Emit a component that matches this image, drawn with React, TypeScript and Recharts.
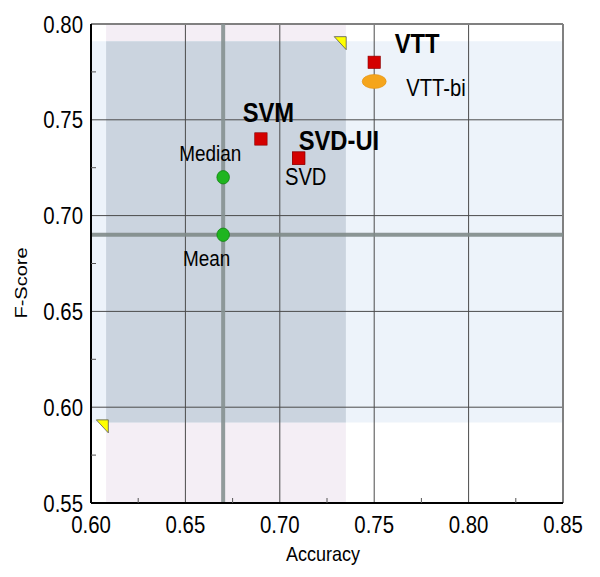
import React from 'react';
import { ScatterChart, Scatter, XAxis, YAxis, ReferenceArea, ReferenceLine } from 'recharts';

const FONT = '"Liberation Sans", Arial, Helvetica, sans-serif';

// Methods drawn as red squares
const methodNames = ['VTT', 'SVM', 'SVD-UI', 'SVD'];
const methodAccuracy = [0.75, 0.69, 0.71, 0.71];
const methodFScore = [0.78, 0.74, 0.73, 0.73];

// Bi-variant (orange ellipse)
const biNames = ['VTT-bi'];
const biAccuracy = [0.75];
const biFScore = [0.77];

// Statistics (green circles)
const statNames = ['Median', 'Mean'];
const statAccuracy = [0.67, 0.67];
const statFScore = [0.72, 0.69];

// Range bounds (yellow triangles)
const boundNames = ['upper', 'lower'];
const boundAccuracy = [0.732, 0.606];
const boundFScore = [0.79, 0.59];

// Shaded ranges
const accuracyBand = [0.608, 0.735];
const fscoreBand = [0.592, 0.791];

// Axes
const xDomain = [0.6, 0.85];
const yDomain = [0.55, 0.8];
const xTicks = [0.6, 0.625, 0.65, 0.675, 0.7, 0.725, 0.75, 0.775, 0.8, 0.825, 0.85];
const yTicks = [0.55, 0.575, 0.6, 0.625, 0.65, 0.675, 0.7, 0.725, 0.75, 0.775, 0.8];
const xGrid = [0.65, 0.7, 0.75, 0.8];
const yGrid = [0.6, 0.65, 0.7, 0.75];

const toPoints = (names: string[], xs: number[], ys: number[]) =>
  names.map((name, i) => ({ name, x: xs[i], y: ys[i] }));

const methodData = toPoints(methodNames, methodAccuracy, methodFScore);
const biData = toPoints(biNames, biAccuracy, biFScore);
const statData = toPoints(statNames, statAccuracy, statFScore);
const boundData = toPoints(boundNames, boundAccuracy, boundFScore);

type LS = { dx: number; dy: number; anchor: 'start' | 'middle' | 'end'; bold: boolean; size: number };
const labelStyle: Record<string, LS> = {
  VTT: { dx: 20.5, dy: -9.7, anchor: 'start', bold: true, size: 27 },
  SVM: { dx: 7.5, dy: -16.7, anchor: 'middle', bold: true, size: 27 },
  'SVD-UI': { dx: 0, dy: -8, anchor: 'start', bold: true, size: 27 },
  SVD: { dx: 7, dy: 27, anchor: 'middle', bold: false, size: 23.5 },
  'VTT-bi': { dx: 32, dy: 15, anchor: 'start', bold: false, size: 23.5 },
  Median: { dx: -13, dy: -16.3, anchor: 'middle', bold: false, size: 22 },
  Mean: { dx: -16.5, dy: 31.7, anchor: 'middle', bold: false, size: 22 },
};

function SText(props: {
  x: number; y: number; sx: number; anchor?: 'start' | 'middle' | 'end';
  size: number; bold?: boolean; rotate?: number; children: React.ReactNode;
}) {
  const { x, y, sx, anchor = 'start', size, bold, rotate, children } = props;
  return (
    <g transform={`translate(${x},${y}) scale(${sx},1)${rotate ? ` rotate(${rotate})` : ''}`}>
      <text x={0} y={0} textAnchor={anchor} fontSize={size} fontWeight={bold ? 'bold' : 'normal'}
        fontFamily={FONT} fill="#000">{children}</text>
    </g>
  );
}

function PointLabel({ cx, cy, name }: { cx: number; cy: number; name: string }) {
  const s = labelStyle[name];
  if (!s) return null;
  return (
    <SText x={cx + s.dx} y={cy + s.dy} sx={s.bold ? 0.88 : 0.86} anchor={s.anchor} size={s.size} bold={s.bold}>
      {name}
    </SText>
  );
}

const squareShape = (p: any) => (
  <g>
    <rect x={p.cx - 6.2} y={p.cy - 6.2} width={12.4} height={12.4} fill="#d40000" stroke="#8a0000" strokeWidth={0.6} />
    <PointLabel cx={p.cx} cy={p.cy} name={p.payload.name} />
  </g>
);

const ellipseShape = (p: any) => (
  <g>
    <ellipse cx={p.cx} cy={p.cy} rx={12} ry={7} fill="#f5a51c" stroke="#e09010" strokeWidth={0.6} />
    <PointLabel cx={p.cx} cy={p.cy} name={p.payload.name} />
  </g>
);

const circleShape = (p: any) => (
  <g>
    <ellipse cx={p.cx} cy={p.cy} rx={6.3} ry={6.7} fill="#1fb51f" stroke="#0b7a0b" strokeWidth={0.7} />
    <PointLabel cx={p.cx} cy={p.cy} name={p.payload.name} />
  </g>
);

const triangleShape = (p: any) => (
  <polygon
    points={`${p.cx - 6},${p.cy - 6.5} ${p.cx + 6},${p.cy - 6.5} ${p.cx + 6},${p.cy + 6.5}`}
    fill="#ffff00" stroke="#555" strokeWidth={0.8}
  />
);

const isMajor = (v: number) => v.toFixed(3).endsWith('0');

const YTick = (p: any) => {
  const v = p.payload.value as number;
  if (isMajor(v)) {
    return (
      <SText x={p.x} y={p.y + 8.6} sx={0.85} anchor="end" size={24}>{v.toFixed(2)}</SText>
    );
  }
  return <line x1={p.x + 8} x2={p.x + 13} y1={p.y} y2={p.y} stroke="#555" strokeWidth={1} />;
};

const XTick = (p: any) => {
  const v = p.payload.value as number;
  if (isMajor(v)) {
    return (
      <SText x={p.x} y={p.y + 30} sx={0.85} anchor="middle" size={24}>{v.toFixed(2)}</SText>
    );
  }
  return <line x1={p.x} x2={p.x} y1={p.y} y2={p.y - 5} stroke="#555" strokeWidth={1} />;
};

const XTitle = (p: any) => {
  const vb = p.viewBox;
  return (
    <SText x={vb.x + vb.width / 2 - 4} y={vb.y + 57.7} sx={0.9} anchor="middle" size={20}>Accuracy</SText>
  );
};

const YTitle = (p: any) => {
  const vb = p.viewBox;
  return (
    <SText x={vb.x + 19} y={vb.y + vb.height / 2 + 19.5} sx={0.84} anchor="middle" size={20} rotate={-90}>F-Score</SText>
  );
};

export default function App() {
  return (
    <ScatterChart width={592} height={561} margin={{ top: 16, right: 37, bottom: 0, left: 0 }}>
      <XAxis
        type="number" dataKey="x" domain={xDomain} ticks={xTicks} allowDataOverflow
        height={66} tickSize={0} tickMargin={0} tick={<XTick />} tickLine={false}
        axisLine={{ stroke: '#000', strokeWidth: 2 }} label={<XTitle />} interval={0}
      />
      <YAxis
        type="number" dataKey="y" domain={yDomain} ticks={yTicks} allowDataOverflow
        width={83} tickSize={0} tickMargin={8} tick={<YTick />} tickLine={false}
        axisLine={{ stroke: '#000', strokeWidth: 2 }} label={<YTitle />} interval={0}
      />
      <ReferenceArea x1={accuracyBand[0]} x2={accuracyBand[1]} y1={yDomain[0]} y2={yDomain[1]}
        fill="#f4eef5" fillOpacity={1} stroke="none" />
      <ReferenceArea x1={xDomain[0]} x2={xDomain[1]} y1={fscoreBand[0]} y2={fscoreBand[1]}
        fill="#edf3fa" fillOpacity={1} stroke="none" />
      <ReferenceArea x1={accuracyBand[0]} x2={accuracyBand[1]} y1={fscoreBand[0]} y2={fscoreBand[1]}
        fill="#cbd4df" fillOpacity={1} stroke="none" />
      {xGrid.map((v) => (
        <ReferenceLine key={`gx${v}`} x={v} stroke="#4a4a4a" strokeWidth={1} />
      ))}
      {yGrid.map((v) => (
        <ReferenceLine key={`gy${v}`} y={v} stroke="#4a4a4a" strokeWidth={1} />
      ))}
      <ReferenceLine y={yDomain[1]} stroke="#808080" strokeWidth={2} />
      <ReferenceLine x={xDomain[1]} stroke="#808080" strokeWidth={2} />
      <ReferenceLine x={statAccuracy[1]} stroke="#869191" strokeWidth={4} strokeOpacity={0.9} />
      <ReferenceLine y={statFScore[1]} stroke="#7f8b88" strokeWidth={4} strokeOpacity={0.9} />
      <Scatter data={boundData} shape={triangleShape} isAnimationActive={false} />
      <Scatter data={statData} shape={circleShape} isAnimationActive={false} />
      <Scatter data={biData} shape={ellipseShape} isAnimationActive={false} />
      <Scatter data={methodData} shape={squareShape} isAnimationActive={false} />
    </ScatterChart>
  );
}
